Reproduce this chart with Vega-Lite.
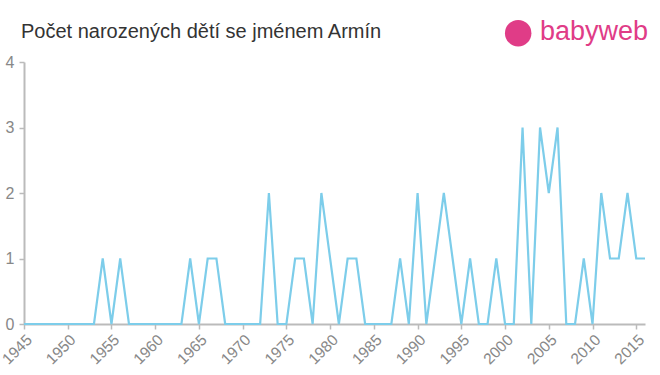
{
  "$schema": "https://vega.github.io/schema/vega-lite/v6.json",
  "autosize": "none",
  "width": 621,
  "height": 262,
  "padding": {"left": 24, "top": 62, "right": 15, "bottom": 51},
  "background": "white",
  "config": {"view": {"stroke": null}, "font": "Liberation Sans"},
  "title": {
    "text": "Počet narozených dětí se jménem Armín",
    "anchor": "start",
    "frame": "group",
    "fontSize": 20,
    "fontWeight": "normal",
    "color": "#333333",
    "font": "Liberation Sans",
    "baseline": "alphabetic",
    "dx": -3,
    "offset": -40
  },
  "datasets": {
    "births": [
      {"year": 1945, "count": 0}, {"year": 1946, "count": 0}, {"year": 1947, "count": 0},
      {"year": 1948, "count": 0}, {"year": 1949, "count": 0}, {"year": 1950, "count": 0},
      {"year": 1951, "count": 0}, {"year": 1952, "count": 0}, {"year": 1953, "count": 0},
      {"year": 1954, "count": 1}, {"year": 1955, "count": 0}, {"year": 1956, "count": 1},
      {"year": 1957, "count": 0}, {"year": 1958, "count": 0}, {"year": 1959, "count": 0},
      {"year": 1960, "count": 0}, {"year": 1961, "count": 0}, {"year": 1962, "count": 0},
      {"year": 1963, "count": 0}, {"year": 1964, "count": 1}, {"year": 1965, "count": 0},
      {"year": 1966, "count": 1}, {"year": 1967, "count": 1}, {"year": 1968, "count": 0},
      {"year": 1969, "count": 0}, {"year": 1970, "count": 0}, {"year": 1971, "count": 0},
      {"year": 1972, "count": 0}, {"year": 1973, "count": 2}, {"year": 1974, "count": 0},
      {"year": 1975, "count": 0}, {"year": 1976, "count": 1}, {"year": 1977, "count": 1},
      {"year": 1978, "count": 0}, {"year": 1979, "count": 2}, {"year": 1980, "count": 1},
      {"year": 1981, "count": 0}, {"year": 1982, "count": 1}, {"year": 1983, "count": 1},
      {"year": 1984, "count": 0}, {"year": 1985, "count": 0}, {"year": 1986, "count": 0},
      {"year": 1987, "count": 0}, {"year": 1988, "count": 1}, {"year": 1989, "count": 0},
      {"year": 1990, "count": 2}, {"year": 1991, "count": 0}, {"year": 1992, "count": 1},
      {"year": 1993, "count": 2}, {"year": 1994, "count": 1}, {"year": 1995, "count": 0},
      {"year": 1996, "count": 1}, {"year": 1997, "count": 0}, {"year": 1998, "count": 0},
      {"year": 1999, "count": 1}, {"year": 2000, "count": 0}, {"year": 2001, "count": 0},
      {"year": 2002, "count": 3}, {"year": 2003, "count": 0}, {"year": 2004, "count": 3},
      {"year": 2005, "count": 2}, {"year": 2006, "count": 3}, {"year": 2007, "count": 0},
      {"year": 2008, "count": 0}, {"year": 2009, "count": 1}, {"year": 2010, "count": 0},
      {"year": 2011, "count": 2}, {"year": 2012, "count": 1}, {"year": 2013, "count": 1},
      {"year": 2014, "count": 2}, {"year": 2015, "count": 1}, {"year": 2016, "count": 1}
    ],
    "logo": [{"name": "babyweb", "lx": 2001.5, "ly": 4.44, "tx": 2004.0, "ty": 4.34}]
  },
  "layer": [
    {
      "data": {"name": "births"},
      "mark": {"type": "line", "color": "#7dcdea", "strokeWidth": 2.2, "clip": false},
      "encoding": {
        "x": {
          "field": "year",
          "type": "quantitative",
          "scale": {"domain": [1945, 2016], "nice": false, "zero": false},
          "axis": {
            "title": null,
            "values": [1945, 1950, 1955, 1960, 1965, 1970, 1975, 1980, 1985, 1990, 1995, 2000, 2005, 2010, 2015],
            "format": "d",
            "labelAngle": -45,
            "labelAlign": "right",
            "labelBaseline": "top",
            "labelFontSize": 15.5,
            "labelColor": "#888888",
            "labelFont": "Liberation Sans",
            "labelOverlap": false,
            "labelFlush": false,
            "labelPadding": 3,
            "domainColor": "#bbbbbb",
            "domainWidth": 2,
            "tickColor": "#bbbbbb",
            "tickWidth": 1.5,
            "tickSize": 5,
            "grid": false
          }
        },
        "y": {
          "field": "count",
          "type": "quantitative",
          "scale": {"domain": [0, 4], "nice": false},
          "axis": {
            "title": null,
            "values": [0, 1, 2, 3, 4],
            "format": "d",
            "labelFontSize": 16,
            "labelColor": "#888888",
            "labelFont": "Liberation Sans",
            "labelPadding": 5,
            "domainColor": "#bbbbbb",
            "domainWidth": 2,
            "tickColor": "#bbbbbb",
            "tickWidth": 1.5,
            "tickSize": 5,
            "grid": false
          }
        }
      }
    },
    {
      "data": {"name": "logo"},
      "mark": {"type": "point", "filled": true, "shape": "circle", "size": 700, "color": "#e03c87", "opacity": 1, "clip": false},
      "encoding": {
        "x": {"field": "lx", "type": "quantitative"},
        "y": {"field": "ly", "type": "quantitative"}
      }
    },
    {
      "data": {"name": "logo"},
      "mark": {"type": "text", "align": "left", "baseline": "alphabetic", "fontSize": 27, "color": "#e03c87", "font": "Liberation Sans", "clip": false},
      "encoding": {
        "x": {"field": "tx", "type": "quantitative"},
        "y": {"field": "ty", "type": "quantitative"},
        "text": {"field": "name"}
      }
    }
  ]
}
